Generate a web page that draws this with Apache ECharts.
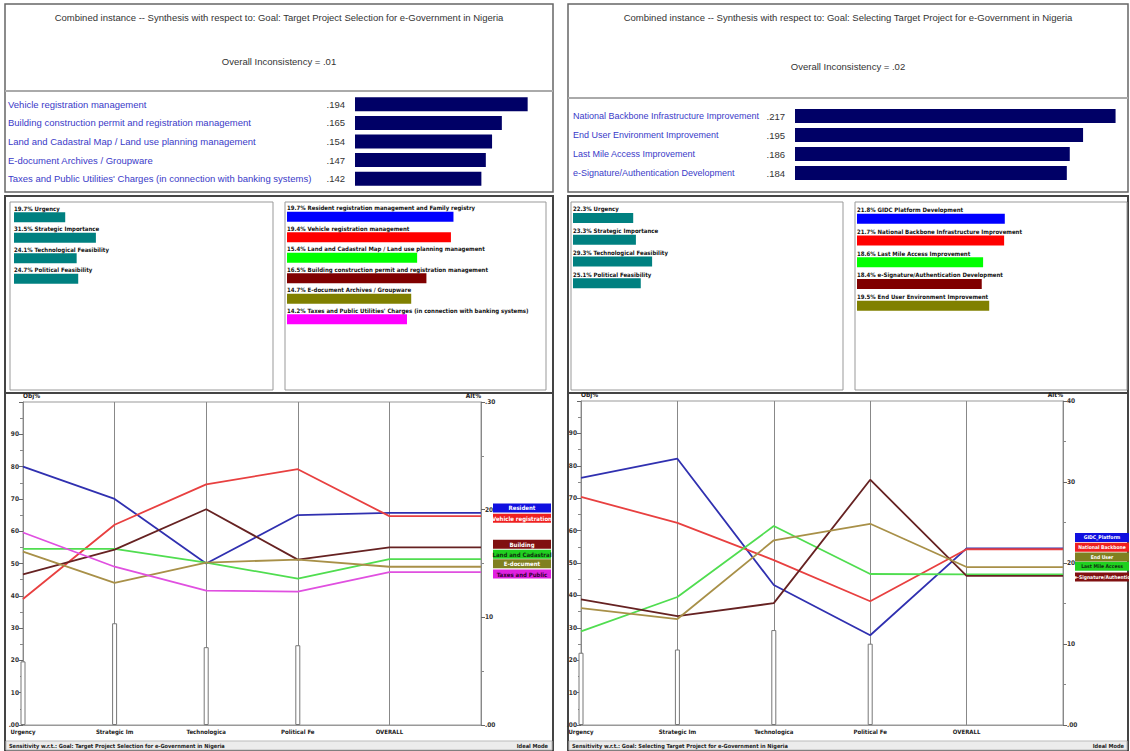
<!DOCTYPE html>
<html><head><meta charset="utf-8">
<script src="https://cdn.jsdelivr.net/npm/echarts@6/dist/echarts.min.js"></script>
<style>html,body{margin:0;padding:0;background:#fff}#c{width:1130px;height:751px}</style>
</head><body><div id="c"></div>
<script>
// ---------- texts ----------
const leftTitle = 'Combined instance -- Synthesis with respect to: Goal: Target Project Selection for e-Government in Nigeria';
const rightTitle = 'Combined instance -- Synthesis with respect to: Goal: Selecting Target Project for e-Government in Nigeria';
const leftInconsistency = 'Overall Inconsistency = .01';
const rightInconsistency = 'Overall Inconsistency = .02';
const leftStatus = 'Sensitivity w.r.t.: Goal: Target Project Selection for e-Government in Nigeria';
const rightStatus = 'Sensitivity w.r.t.: Goal: Selecting Target Project for e-Government in Nigeria';
const modeText = 'Ideal Mode';

// ---------- synthesis (top panels) ----------
const leftSynthNames = ['Vehicle registration management','Building construction permit and registration management','Land and Cadastral Map / Land use planning management','E-document Archives / Groupware',"Taxes and Public Utilities' Charges (in connection with banking systems)"];
const leftSynthValues = [0.194, 0.165, 0.154, 0.147, 0.142];
const rightSynthNames = ['National Backbone Infrastructure Improvement','End User Environment Improvement','Last Mile Access Improvement','e-Signature/Authentication Development'];
const rightSynthValues = [0.217, 0.195, 0.186, 0.184];

// ---------- criteria ----------
const criteriaNames = ['Urgency','Strategic Importance','Technological Feasibility','Political Feasibility'];
const leftCriteriaWeights = [19.7, 31.5, 24.1, 24.7];
const rightCriteriaWeights = [22.3, 23.3, 29.3, 25.1];
const axisCategories = ['Urgency','Strategic Im','Technologica','Political Fe','OVERALL',''];

// ---------- alternatives (left) ----------
const leftAltNames = ['Resident registration management and Family registry','Vehicle registration management','Land and Cadastral Map / Land use planning management','Building construction permit and registration management','E-document Archives / Groupware',"Taxes and Public Utilities' Charges (in connection with banking systems)"];
const leftAltShort = ['Resident','Vehicle registration','Land and Cadastral','Building','E-document','Taxes and Public'];
const leftAltWeights = [19.7, 19.4, 15.4, 16.5, 14.7, 14.2];
const leftPerfResident = [80, 70, 50, 65];
const leftPerfVehicle = [39, 62, 74.5, 79.2];
const leftPerfLand = [54.5, 54.5, 50.3, 45.3];
const leftPerfBuilding = [46.6, 54.3, 66.8, 51.2];
const leftPerfEdoc = [53.7, 44, 50.3, 51.2];
const leftPerfTaxes = [59.6, 49, 41.6, 41.3];

// ---------- alternatives (right) ----------
const rightAltNames = ['GIDC Platform Development','National Backbone Infrastructure Improvement','Last Mile Access Improvement','e-Signature/Authentication Development','End User Environment Improvement'];
const rightAltShort = ['GIDC_Platform','National Backbone','Last Mile Access','e-Signature/Authentic','End User'];
const rightAltWeights = [21.8, 21.7, 18.6, 18.4, 19.5];
const rightPerfGIDC = [76.3, 82.2, 43.2, 27.7];
const rightPerfBackbone = [70.4, 62.4, 50.9, 38.2];
const rightPerfLastMile = [28.9, 39.5, 61.4, 46.6];
const rightPerfESig = [38.8, 33.6, 37.6, 75.7];
const rightPerfEndUser = [36.1, 32.7, 57, 62.1];

// axis ranges
const OBJ_MAX = 100;
const LEFT_ALT_MAX = 30;
const RIGHT_ALT_MAX = 40;

// ---------- styles ----------
const FONT = "'Liberation Sans', Arial, sans-serif";
const NARROW = "'Liberation Sans Narrow','DejaVu Sans Condensed','Liberation Sans',sans-serif";
const leftBarColors = ['#0000ff','#ff0000','#00ff00','#800000','#808000','#ff00ff'];
const leftLineColors = ['#3030b0','#e84040','#50dd50','#662222','#a89048','#e050e0'];
const leftLabelBg = ['#1010e0','#ee2020','#20d020','#801010','#808020','#e020e0'];
const leftLabelText = ['#fff','#fff','#103010','#fff','#fff','#300030'];
const leftLabelNudge = [-5, 2, -5, -3, -3, 2];      // vertical de-overlap of the legend tags (px)
const rightBarColors = ['#0000ff','#ff0000','#00ff00','#800000','#808000'];
const rightLineColors = ['#3030b0','#e84040','#50dd50','#662222','#a89048'];
const rightLabelBg = ['#1010e0','#ee2020','#20d020','#801010','#808020'];
const rightLabelText = ['#fff','#fff','#103010','#fff','#fff'];
const rightLabelNudge = [-11, -2, -8, 1, -10];

const fmtPriority = v => v.toFixed(3).replace(/^0/, '');

const chart = echarts.init(document.getElementById('c'), null, {renderer: 'svg'});

const grids = [
  {left: 355, top: 95, width: 178, height: 93},
  {left: 795, top: 106.5, width: 325, height: 76},
  {left: 14, top: 207, width: 260, height: 82},
  {left: 287, top: 206.5, width: 253.5, height: 123},
  {left: 573, top: 207, width: 270, height: 87},
  {left: 857, top: 208, width: 169.5, height: 108.5},
  {left: 23, top: 402, width: 458, height: 323, show: true, borderColor: '#999', borderWidth: 1, backgroundColor: 'transparent'},
  {left: 581, top: 401, width: 482, height: 324, show: true, borderColor: '#999', borderWidth: 1, backgroundColor: 'transparent'}
];

const hiddenVal = (g, max) => ({type: 'value', gridIndex: g, min: 0, max: max, show: false});
const xAxes = [
  hiddenVal(0, 0.2), hiddenVal(1, 0.22), hiddenVal(2, 100), hiddenVal(3, 30), hiddenVal(4, 100), hiddenVal(5, 25)
];
const catAxisStyle = (g) => ({
  type: 'category', gridIndex: g, data: axisCategories, boundaryGap: false,
  axisLine: {show: true, lineStyle: {color: '#999'}}, axisTick: {show: false},
  axisLabel: {interval: 0, fontSize: 6, fontWeight: 'bold', color: '#222', fontFamily: NARROW, margin: 3},
  splitLine: {show: true, interval: 0, lineStyle: {color: '#888', width: 1}}
});
xAxes.push(catAxisStyle(6), catAxisStyle(7));

const hiddenCat = (g, data) => ({type: 'category', gridIndex: g, data: data, inverse: true, show: false});
const yAxes = [
  {type: 'category', gridIndex: 0, data: leftSynthNames, inverse: true,
   axisLine: {show: false}, axisTick: {show: false},
   axisLabel: {align: 'left', margin: 347, fontSize: 9.5, color: '#3a3ac8', fontFamily: FONT}},
  {type: 'category', gridIndex: 1, data: rightSynthNames, inverse: true,
   axisLine: {show: false}, axisTick: {show: false},
   axisLabel: {align: 'left', margin: 222, fontSize: 9, color: '#3a3ac8', fontFamily: FONT}},
  hiddenCat(2, criteriaNames), hiddenCat(3, leftAltNames), hiddenCat(4, criteriaNames), hiddenCat(5, rightAltNames)
];
const valAxis = (g, pos, max, topLabel, name) => ({
  type: 'value', gridIndex: g, position: pos, min: 0, max: max, interval: 10,
  name: name, nameLocation: 'end', nameGap: 3,
  nameTextStyle: {fontSize: 6.5, fontWeight: 'bold', color: '#222', fontFamily: NARROW, align: pos === 'left' ? 'left' : 'right'},
  axisLine: {show: true, lineStyle: {color: '#888'}},
  axisTick: {show: true, length: 4, lineStyle: {color: '#666'}},
  minorTick: {show: true, splitNumber: 2, length: 3, lineStyle: {color: '#888'}},
  splitLine: {show: false},
  axisLabel: {fontSize: 6.5, fontWeight: 'bold', color: '#333', fontFamily: NARROW, margin: 4,
    formatter: v => v === 0 ? '.00' : (v === max ? topLabel : String(v))}
});
yAxes.push(
  valAxis(6, 'left', OBJ_MAX, '', 'Obj%'),    // index 6
  valAxis(6, 'right', LEFT_ALT_MAX, '.' + LEFT_ALT_MAX, 'Alt%'), // index 7
  valAxis(7, 'left', OBJ_MAX, '', 'Obj%'),    // index 8
  valAxis(7, 'right', RIGHT_ALT_MAX, String(RIGHT_ALT_MAX), 'Alt%') // index 9
);

const series = [];
// top synthesis bars
series.push({type: 'bar', xAxisIndex: 0, yAxisIndex: 0, data: leftSynthValues, barWidth: 14,
  itemStyle: {color: '#000066'}, silent: true,
  label: {show: true, position: 'left', distance: 10, formatter: p => fmtPriority(p.value), fontSize: 9.5, color: '#333', fontFamily: FONT}});
series.push({type: 'bar', xAxisIndex: 1, yAxisIndex: 1, data: rightSynthValues, barWidth: 14,
  itemStyle: {color: '#000066'}, silent: true,
  label: {show: true, position: 'left', distance: 10, formatter: p => fmtPriority(p.value), fontSize: 9.5, color: '#333', fontFamily: FONT}});

const weightLabel = {show: true, position: [0, -1], verticalAlign: 'bottom', align: 'left',
  fontSize: 6, fontWeight: 'bold', color: '#111', fontFamily: NARROW,
  formatter: p => p.value.toFixed(1) + '% ' + p.name};
series.push({type: 'bar', xAxisIndex: 2, yAxisIndex: 2, barWidth: 10, data: leftCriteriaWeights,
  itemStyle: {color: '#008080'}, label: weightLabel});
series.push({type: 'bar', xAxisIndex: 3, yAxisIndex: 3, barWidth: 10,
  data: leftAltWeights.map((v, i) => ({value: v, itemStyle: {color: leftBarColors[i]}})), label: weightLabel});
series.push({type: 'bar', xAxisIndex: 4, yAxisIndex: 4, barWidth: 10, data: rightCriteriaWeights,
  itemStyle: {color: '#008080'}, label: weightLabel});
series.push({type: 'bar', xAxisIndex: 5, yAxisIndex: 5, barWidth: 10,
  data: rightAltWeights.map((v, i) => ({value: v, itemStyle: {color: rightBarColors[i]}})), label: weightLabel});

// thermometer bars of criteria weights
const thermo = (xi, yi, w) => ({type: 'bar', xAxisIndex: xi, yAxisIndex: yi, barWidth: 5, z: 1,
  data: w.concat(['-', '-']), itemStyle: {color: '#fff', borderColor: '#777', borderWidth: 1}, silent: true});
series.push(thermo(6, 6, leftCriteriaWeights));
series.push(thermo(7, 8, rightCriteriaWeights));

// performance lines
const perfLine = (xi, yi, perf, overall, altMax, color, bg, shortName, textColor, boxW, nudge, fs) => {
  const k = OBJ_MAX / altMax; // overall values are read on the Alt% axis
  return {
    type: 'line', xAxisIndex: xi, yAxisIndex: yi, z: 3, symbol: 'none', silent: true,
    data: perf.concat([overall * k, overall * k]),
    lineStyle: {color: color, width: 1.8}, itemStyle: {color: color},
    endLabel: {show: true, distance: 12, offset: [0, nudge], formatter: '{a|' + shortName + '}',
      fontSize: fs, lineHeight: 8, backgroundColor: bg, padding: [0.5, 2], color: textColor,
      rich: {a: {width: boxW, align: 'center', fontSize: fs, fontWeight: 'bold', color: textColor,
        fontFamily: NARROW, lineHeight: 8}}}
  };
};
const leftPerf = [leftPerfResident, leftPerfVehicle, leftPerfLand, leftPerfBuilding, leftPerfEdoc, leftPerfTaxes];
leftPerf.forEach((p, i) => series.push(perfLine(6, 6, p, leftAltWeights[i], LEFT_ALT_MAX, leftLineColors[i], leftLabelBg[i], leftAltShort[i], leftLabelText[i], 54, leftLabelNudge[i], 6)));
const rightPerf = [rightPerfGIDC, rightPerfBackbone, rightPerfLastMile, rightPerfESig, rightPerfEndUser];
rightPerf.forEach((p, i) => series.push(perfLine(7, 8, p, rightAltWeights[i], RIGHT_ALT_MAX, rightLineColors[i], rightLabelBg[i], rightAltShort[i], rightLabelText[i], 50, rightLabelNudge[i], 5)));

// ---------- frames and panel texts ----------
const frame = (x, y, w, h, stroke, lw) => ({type: 'rect', shape: {x, y, width: w, height: h}, style: {fill: 'none', stroke, lineWidth: lw}, silent: true, z: -1});
const hline = (x1, x2, y, stroke, lw) => ({type: 'line', shape: {x1, y1: y, x2, y2: y}, style: {stroke, lineWidth: lw}, silent: true, z: -1});
const txt = (text, x, y, align, font, fill) => ({type: 'text', x, y, style: {text, textAlign: align, textVerticalAlign: 'middle', font, fill}, silent: true, z: 10});
const graphic = [
  frame(5, 4, 548, 188, '#666', 1.5), hline(5, 553, 91, '#aaa', 2),
  txt(leftTitle, 279, 17, 'center', '9.5px ' + FONT, '#333'),
  txt(leftInconsistency, 279, 61, 'center', '9.5px ' + FONT, '#333'),
  frame(568, 4, 560, 188, '#666', 1.5), hline(568, 1128, 98, '#aaa', 2),
  txt(rightTitle, 848, 17, 'center', '9.5px ' + FONT, '#333'),
  txt(rightInconsistency, 848, 66, 'center', '9.5px ' + FONT, '#333'),
  frame(5, 196, 548, 197, '#444', 2), frame(10, 202, 263, 188, '#999', 1), frame(285, 202, 261, 188, '#999', 1),
  frame(568, 196, 560, 197, '#444', 2), frame(571, 202, 272, 188, '#999', 1), frame(855, 202, 272, 188, '#999', 1),
  frame(5, 393, 548, 357, '#444', 2), frame(568, 393, 560, 357, '#444', 2),
  {type: 'rect', shape: {x: 6, y: 741, width: 546, height: 9}, style: {fill: '#ececec', stroke: '#bbb', lineWidth: 1}, silent: true, z: -1},
  {type: 'rect', shape: {x: 569, y: 741, width: 558, height: 9}, style: {fill: '#ececec', stroke: '#bbb', lineWidth: 1}, silent: true, z: -1},
  txt(leftStatus, 9, 746, 'left', 'bold 5.6px ' + NARROW, '#222'),
  txt(modeText, 548, 746, 'right', 'bold 5.6px ' + NARROW, '#222'),
  txt(rightStatus, 572, 746, 'left', 'bold 5.6px ' + NARROW, '#222'),
  txt(modeText, 1124, 746, 'right', 'bold 5.6px ' + NARROW, '#222')
];

chart.setOption({
  backgroundColor: '#fff',
  animation: false,
  grid: grids,
  xAxis: xAxes,
  yAxis: yAxes,
  series: series,
  graphic: graphic
});
</script>
</body></html>
